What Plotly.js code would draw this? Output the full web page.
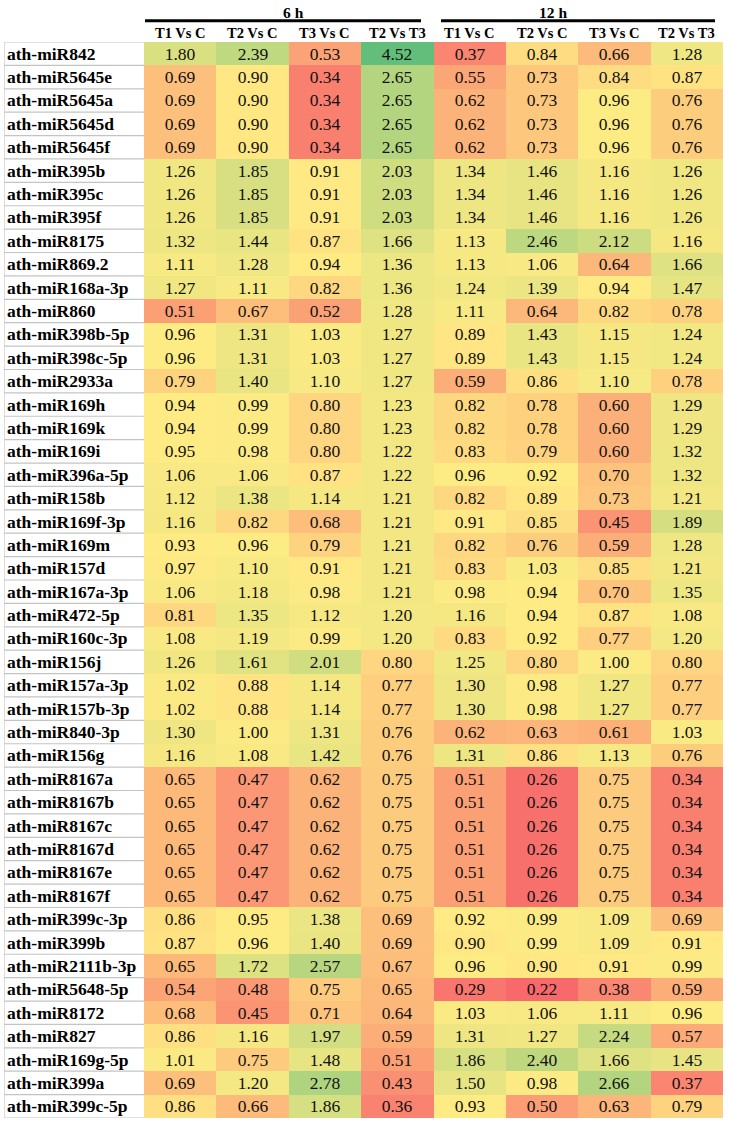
<!DOCTYPE html>
<html>
<head>
<meta charset="utf-8">
<script src="https://cdn.plot.ly/plotly-3.0.1.min.js"></script>
<style>html,body{margin:0;padding:0;background:#fff;}#chart{width:729px;height:1124px;}</style>
</head>
<body>
<div id="chart"></div>
<script>
// ---- data ----
const rowLabels = ["ath-miR842","ath-miR5645e","ath-miR5645a","ath-miR5645d","ath-miR5645f","ath-miR395b","ath-miR395c","ath-miR395f","ath-miR8175","ath-miR869.2","ath-miR168a-3p","ath-miR860","ath-miR398b-5p","ath-miR398c-5p","ath-miR2933a","ath-miR169h","ath-miR169k","ath-miR169i","ath-miR396a-5p","ath-miR158b","ath-miR169f-3p","ath-miR169m","ath-miR157d","ath-miR167a-3p","ath-miR472-5p","ath-miR160c-3p","ath-miR156j","ath-miR157a-3p","ath-miR157b-3p","ath-miR840-3p","ath-miR156g","ath-miR8167a","ath-miR8167b","ath-miR8167c","ath-miR8167d","ath-miR8167e","ath-miR8167f","ath-miR399c-3p","ath-miR399b","ath-miR2111b-3p","ath-miR5648-5p","ath-miR8172","ath-miR827","ath-miR169g-5p","ath-miR399a","ath-miR399c-5p"];
const colLabels = ["T1 Vs C","T2 Vs C","T3 Vs C","T2 Vs T3","T1 Vs C","T2 Vs C","T3 Vs C","T2 Vs T3"];
const timeLabels = ["6 h","12 h"];

const h6_T1C  = [1.80,0.69,0.69,0.69,0.69,1.26,1.26,1.26,1.32,1.11,1.27,0.51,0.96,0.96,0.79,0.94,0.94,0.95,1.06,1.12,1.16,0.93,0.97,1.06,0.81,1.08,1.26,1.02,1.02,1.30,1.16,0.65,0.65,0.65,0.65,0.65,0.65,0.86,0.87,0.65,0.54,0.68,0.86,1.01,0.69,0.86];
const h6_T2C  = [2.39,0.90,0.90,0.90,0.90,1.85,1.85,1.85,1.44,1.28,1.11,0.67,1.31,1.31,1.40,0.99,0.99,0.98,1.06,1.38,0.82,0.96,1.10,1.18,1.35,1.19,1.61,0.88,0.88,1.00,1.08,0.47,0.47,0.47,0.47,0.47,0.47,0.95,0.96,1.72,0.48,0.45,1.16,0.75,1.20,0.66];
const h6_T3C  = [0.53,0.34,0.34,0.34,0.34,0.91,0.91,0.91,0.87,0.94,0.82,0.52,1.03,1.03,1.10,0.80,0.80,0.80,0.87,1.14,0.68,0.79,0.91,0.98,1.12,0.99,2.01,1.14,1.14,1.31,1.42,0.62,0.62,0.62,0.62,0.62,0.62,1.38,1.40,2.57,0.75,0.71,1.97,1.48,2.78,1.86];
const h6_T2T3 = [4.52,2.65,2.65,2.65,2.65,2.03,2.03,2.03,1.66,1.36,1.36,1.28,1.27,1.27,1.27,1.23,1.23,1.22,1.22,1.21,1.21,1.21,1.21,1.21,1.20,1.20,0.80,0.77,0.77,0.76,0.76,0.75,0.75,0.75,0.75,0.75,0.75,0.69,0.69,0.67,0.65,0.64,0.59,0.51,0.43,0.36];
const h12_T1C  = [0.37,0.55,0.62,0.62,0.62,1.34,1.34,1.34,1.13,1.13,1.24,1.11,0.89,0.89,0.59,0.82,0.82,0.83,0.96,0.82,0.91,0.82,0.83,0.98,1.16,0.83,1.25,1.30,1.30,0.62,1.31,0.51,0.51,0.51,0.51,0.51,0.51,0.92,0.90,0.96,0.29,1.03,1.31,1.86,1.50,0.93];
const h12_T2C  = [0.84,0.73,0.73,0.73,0.73,1.46,1.46,1.46,2.46,1.06,1.39,0.64,1.43,1.43,0.86,0.78,0.78,0.79,0.92,0.89,0.85,0.76,1.03,0.94,0.94,0.92,0.80,0.98,0.98,0.63,0.86,0.26,0.26,0.26,0.26,0.26,0.26,0.99,0.99,0.90,0.22,1.06,1.27,2.40,0.98,0.50];
const h12_T3C  = [0.66,0.84,0.96,0.96,0.96,1.16,1.16,1.16,2.12,0.64,0.94,0.82,1.15,1.15,1.10,0.60,0.60,0.60,0.70,0.73,0.45,0.59,0.85,0.70,0.87,0.77,1.00,1.27,1.27,0.61,1.13,0.75,0.75,0.75,0.75,0.75,0.75,1.09,1.09,0.91,0.38,1.11,2.24,1.66,2.66,0.63];
const h12_T2T3 = [1.28,0.87,0.76,0.76,0.76,1.26,1.26,1.26,1.16,1.66,1.47,0.78,1.24,1.24,0.78,1.29,1.29,1.32,1.32,1.21,1.89,1.28,1.21,1.35,1.08,1.20,0.80,0.77,0.77,1.03,0.76,0.34,0.34,0.34,0.34,0.34,0.34,0.69,0.91,0.99,0.59,0.96,0.57,1.45,0.37,0.79];

// ---- build ----
const cols = [h6_T1C,h6_T2C,h6_T3C,h6_T2T3,h12_T1C,h12_T2C,h12_T3C,h12_T2T3];
const nR = rowLabels.length, nC = cols.length;
const z = rowLabels.map((_, r) => cols.map(c => c[r]));
const xs = colLabels.map((_, i) => i);
const ys = rowLabels.map((_, i) => i);

const all = [].concat(...cols).slice().sort((a,b)=>a-b);
const zmin = all[0], zmax = all[all.length-1];
const mid = all.length % 2 ? all[(all.length-1)/2] : (all[all.length/2-1]+all[all.length/2])/2;
const p = (mid - zmin)/(zmax - zmin);

const W = 729, H = 1124;
const mL = 4, mR = 6, mT = 42, mB = 6;
const labelW = 140; // label column width in px
const cellW = (W - mL - mR - labelW) / nC;
const xLeft = -0.5 - labelW / cellW;
const plotH = H - mT - mB;
const px2x = px => xLeft + (px - mL) / cellW;

const serif = "Liberation Serif, Times New Roman, serif";

const trace = {
  type: 'heatmap', x: xs, y: ys, z: z,
  zmin: zmin, zmax: zmax,
  colorscale: [[0,'#F8696B'],[p,'#FFEB84'],[1,'#63BE7B']],
  showscale: false, xgap: 0, ygap: 0,
  texttemplate: '%{z:.2f}',
  textfont: {family: serif, size: 17.5, color: '#111'},
  hoverinfo: 'skip'
};

const annotations = [];
rowLabels.forEach((lab, i) => {
  annotations.push({x: xLeft, xshift: 1, y: i, xref: 'x', yref: 'y', text: '<b>' + lab + '</b>', showarrow: false,
    xanchor: 'left', yanchor: 'middle', font: {family: serif, size: 17.5, color: '#000'}});
});
colLabels.forEach((lab, i) => {
  annotations.push({x: i, y: 1, xref: 'x', yref: 'paper', yshift: 9, text: '<b>' + lab + '</b>', showarrow: false,
    xanchor: 'center', yanchor: 'middle', font: {family: serif, size: 14.5, color: '#000'}});
});
annotations.push({x: px2x(293), y: 1, xref: 'x', yref: 'paper', yshift: 30, text: '<b>' + timeLabels[0] + '</b>', showarrow: false,
  xanchor: 'center', yanchor: 'middle', font: {family: serif, size: 15.5, color: '#000'}});
annotations.push({x: px2x(553), y: 1, xref: 'x', yref: 'paper', yshift: 30, text: '<b>' + timeLabels[1] + '</b>', showarrow: false,
  xanchor: 'center', yanchor: 'middle', font: {family: serif, size: 15.5, color: '#000'}});

const shapes = [];
const lineY = 1 + (mT - 20.7) / plotH;
shapes.push({type: 'line', xref: 'x', yref: 'paper', x0: px2x(145), x1: px2x(421), y0: lineY, y1: lineY, line: {color: '#000', width: 3}});
shapes.push({type: 'line', xref: 'x', yref: 'paper', x0: px2x(441), x1: px2x(715), y0: lineY, y1: lineY, line: {color: '#000', width: 3}});
for (let i = 0; i <= nR; i++) {
  shapes.push({type: 'line', xref: 'x', yref: 'y', x0: xLeft, x1: -0.5, y0: i - 0.5, y1: i - 0.5, line: {color: '#c4c4c4', width: 1.2}});
}
shapes.push({type: 'line', xref: 'x', yref: 'y', x0: xLeft, x1: xLeft, y0: -0.5, y1: nR - 0.5, line: {color: '#c4c4c4', width: 1.2}});

const layout = {
  width: W, height: H,
  margin: {l: mL, r: mR, t: mT, b: mB, pad: 0},
  paper_bgcolor: '#fff', plot_bgcolor: '#fff',
  xaxis: {range: [xLeft, nC - 0.5], showgrid: false, zeroline: false, showticklabels: false, ticks: '', fixedrange: true},
  yaxis: {range: [nR - 0.5, -0.5], showgrid: false, zeroline: false, showticklabels: false, ticks: '', fixedrange: true},
  annotations: annotations, shapes: shapes, showlegend: false
};

Plotly.newPlot('chart', [trace], layout, {staticPlot: true, displayModeBar: false});
</script>
</body>
</html>
